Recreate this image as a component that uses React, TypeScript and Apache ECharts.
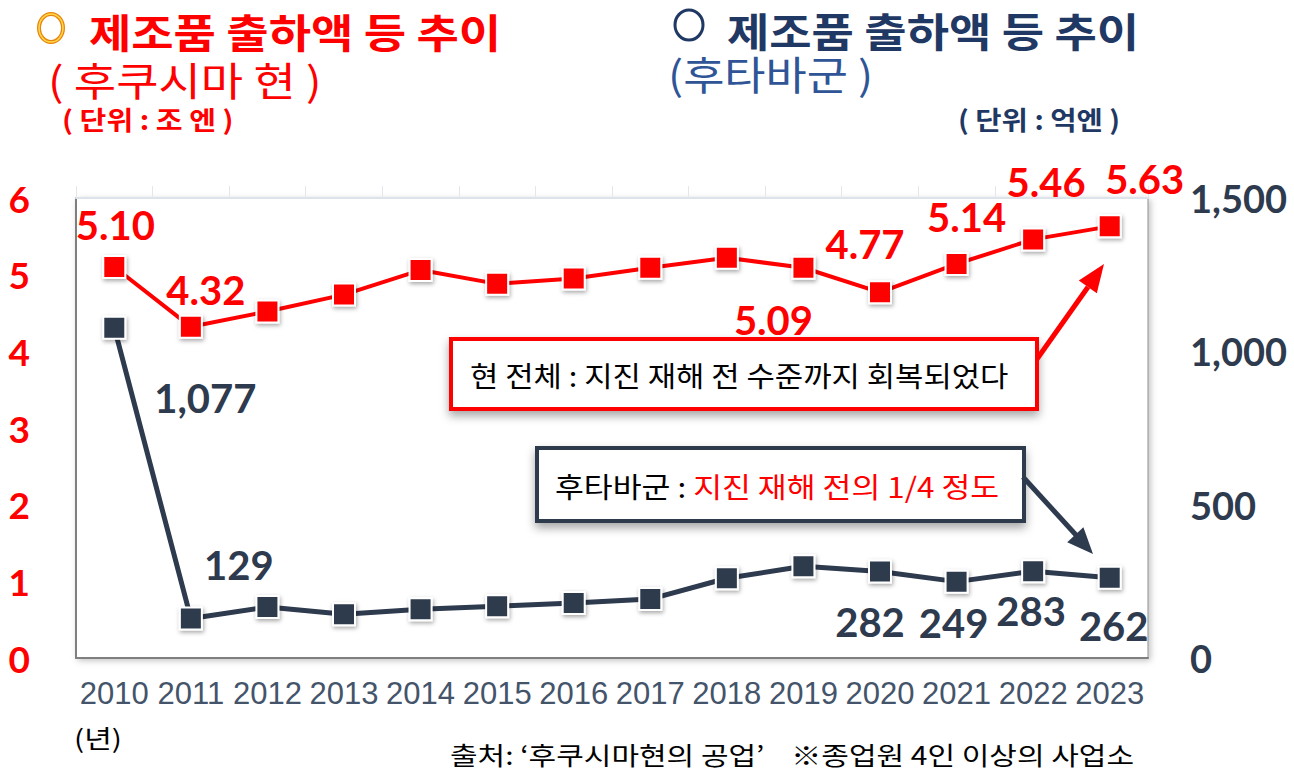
import React, { useEffect, useRef } from "react";
import * as echarts from "echarts";

// Data
const years = ["2010", "2011", "2012", "2013", "2014", "2015", "2016", "2017", "2018", "2019", "2020", "2021", "2022", "2023"];
const prefValues = [5.10, 4.32, 4.52, 4.74, 5.06, 4.88, 4.95, 5.09, 5.22, 5.09, 4.77, 5.14, 5.46, 5.63]; // 조 엔
const futabaValues = [1077, 129, 166, 143, 159, 169, 179, 192, 260, 299, 282, 249, 283, 262]; // 억엔
const leftTicks = [0, 1, 2, 3, 4, 5, 6];
const rightTicks = [0, 500, 1000, 1500];

// label offsets (index -> [dx, dy]) for the values that carry a label
const prefLabelOffsets: Record<number, number[]> = {
  0: [1, -42], 1: [15, -37], 9: [-30, 52], 10: [-15, -48], 11: [10, -47], 12: [13, -57], 13: [35, -47],
};
const futabaLabelOffsets: Record<number, number[]> = {
  0: [91, 70], 1: [48, -53], 10: [-10, 50], 11: [-3, 41], 12: [-2, 40], 13: [4, 48],
};

const RED = "#ff0000";
const DARK = "#2e3a4e";
const KR = "'Noto Sans CJK KR', sans-serif";
const NUM = "Lato, 'Noto Sans', sans-serif";

const fmt = (v: number) => v.toLocaleString("en-US");

const App: React.FC = () => {
  const chartRef = useRef<HTMLDivElement>(null);

  useEffect(() => {
    if (!chartRef.current) return;
    const chart = echarts.init(chartRef.current, undefined, { renderer: "svg" });

    const markerStyle = (color: string) => ({
      color,
      borderColor: "#ffffff",
      borderWidth: 2,
      shadowBlur: 4,
      shadowColor: "rgba(0,0,0,0.35)",
      shadowOffsetX: 1,
      shadowOffsetY: 2,
    });

    const prefData = prefValues.map((v, i) => ({
      value: v,
      label: prefLabelOffsets[i]
        ? { show: true, position: "inside", offset: prefLabelOffsets[i], formatter: v.toFixed(2) }
        : { show: false },
    }));
    const futabaData = futabaValues.map((v, i) => ({
      value: v,
      label: futabaLabelOffsets[i]
        ? { show: true, position: "inside", offset: futabaLabelOffsets[i], formatter: fmt(v) }
        : { show: false },
    }));

    // helper for plain texts in the graphic layer
    const txt = (x: number, y: number, text: string, fill: string, size: number, bold: boolean, sx = 1, z = 1) => ({
      type: "text",
      x,
      y,
      scaleX: sx,
      z,
      style: {
        text,
        fill,
        font: `${bold ? "bold " : ""}${size}px ${KR}`,
        lineHeight: size,
        verticalAlign: "middle",
      },
    });

    const options = {
      animation: false,
      backgroundColor: "#ffffff",
      grid: {
        left: 76,
        right: 146,
        top: 198,
        bottom: 116,
        show: true,
        backgroundColor: "#ffffff",
        borderColor: "#8c8c8c",
        borderWidth: 1,
        shadowBlur: 6,
        shadowColor: "rgba(0,0,0,0.25)",
        shadowOffsetX: 2,
        shadowOffsetY: 2,
      },
      xAxis: [
        {
          type: "category",
          data: years,
          boundaryGap: true,
          axisTick: { show: false },
          axisLine: { show: true, lineStyle: { color: "#7f7f7f", width: 2 } },
          axisLabel: { color: "#44546a", fontSize: 31, fontFamily: "'Liberation Sans', Arial, sans-serif", margin: 20, interval: 0 },
          splitLine: { show: false },
        },
        {
          // faint top edge with category ticks
          type: "category",
          data: years,
          position: "top",
          boundaryGap: true,
          axisTick: { show: true, length: 12, interval: 0, lineStyle: { color: "#e3e6ea", width: 1 } },
          axisLine: { show: true, onZero: false, lineStyle: { color: "#dde3ea", width: 2 } },
          axisLabel: { show: false },
          splitLine: { show: false },
        },
      ],
      yAxis: [
        {
          type: "value",
          min: leftTicks[0],
          max: leftTicks[leftTicks.length - 1],
          interval: 1,
          position: "left",
          axisLine: { show: true, lineStyle: { color: "#7f7f7f", width: 2 } },
          axisTick: { show: false },
          splitLine: { show: false },
          axisLabel: { color: RED, fontSize: 37, fontWeight: "bold", fontFamily: NUM, margin: 46 },
        },
        {
          type: "value",
          min: rightTicks[0],
          max: rightTicks[rightTicks.length - 1],
          interval: 500,
          position: "right",
          axisLine: { show: false },
          axisTick: { show: false },
          splitLine: { show: false },
          axisLabel: {
            color: DARK,
            fontSize: 38,
            fontWeight: "bold",
            fontFamily: NUM,
            margin: 42,
            formatter: (v: number) => fmt(v),
          },
        },
      ],
      series: [
        {
          name: "후타바군",
          type: "line",
          yAxisIndex: 1,
          data: futabaData,
          symbol: "rect",
          symbolSize: 22,
          lineStyle: { color: DARK, width: 5 },
          itemStyle: markerStyle(DARK),
          label: { color: DARK, fontSize: 40, fontWeight: "bold", fontFamily: NUM },
          z: 3,
        },
        {
          name: "후쿠시마 현",
          type: "line",
          yAxisIndex: 0,
          data: prefData,
          symbol: "rect",
          symbolSize: 22,
          lineStyle: { color: RED, width: 4 },
          itemStyle: markerStyle(RED),
          label: { color: RED, fontSize: 40, fontWeight: "bold", fontFamily: NUM },
          z: 4,
        },
      ],
      graphic: [
        // left title block
        { type: "ellipse", shape: { cx: 51, cy: 28, rx: 12, ry: 14 }, style: { fill: "none", stroke: "#e8830c", lineWidth: 4 } },
        { type: "ellipse", shape: { cx: 51, cy: 28, rx: 12, ry: 14 }, style: { fill: "none", stroke: "#ffd84a", lineWidth: 1.5 } },
        txt(89, 30, "제조품 출하액 등 추이", RED, 40, true, 1.15),
        txt(48, 78, "( 후쿠시마 현 )", RED, 40, false, 1.15),
        txt(62, 119, "( 단위 : 조 엔 )", RED, 26, true, 1.12),
        // right title block
        { type: "ellipse", shape: { cx: 689, cy: 25, rx: 14, ry: 15 }, style: { fill: "none", stroke: "#1f3864", lineWidth: 3 } },
        txt(727, 29, "제조품 출하액 등 추이", "#1f3864", 40, true, 1.15),
        txt(668, 73, "(후타바군 )", "#2f5597", 40, false, 1.12),
        txt(958, 119, "( 단위 : 억엔 )", "#1f3864", 26, true, 1.1),
        // annotation: prefecture
        {
          type: "rect",
          shape: { x: 451, y: 339, width: 586, height: 70 },
          style: { fill: "#ffffff", stroke: RED, lineWidth: 4, shadowBlur: 10, shadowColor: "rgba(0,0,0,0.35)", shadowOffsetY: 5 },
          z: 10,
        },
        txt(470, 375, "현 전체 : 지진 재해 전 수준까지 회복되었다", "#000000", 28, false, 1.1, 11),
        { type: "line", shape: { x1: 1037, y1: 359, x2: 1088, y2: 287 }, style: { stroke: RED, lineWidth: 5 }, z: 10 },
        { type: "polygon", shape: { points: [[1104, 264], [1096.8, 293.3], [1078.8, 280.6]] }, style: { fill: RED }, z: 10 },
        // annotation: Futaba
        {
          type: "rect",
          shape: { x: 537, y: 448, width: 487, height: 73 },
          style: { fill: "#ffffff", stroke: DARK, lineWidth: 4, shadowBlur: 10, shadowColor: "rgba(0,0,0,0.35)", shadowOffsetY: 5 },
          z: 10,
        },
        {
          type: "text",
          x: 555,
          y: 486,
          z: 11,
          scaleX: 1.12,
          style: {
            text: "{a|후타바군 : }{b|지진 재해 전의 1/4 정도}",
            verticalAlign: "middle",
            rich: {
              a: { fill: "#000000", font: `28px ${KR}`, lineHeight: 28 },
              b: { fill: RED, font: `28px ${KR}`, lineHeight: 28 },
            },
          },
        },
        { type: "line", shape: { x1: 1023, y1: 477, x2: 1076, y2: 535 }, style: { stroke: DARK, lineWidth: 5 }, z: 10 },
        { type: "polygon", shape: { points: [[1093, 554], [1067.2, 542.3], [1083.4, 527.3]] }, style: { fill: DARK }, z: 10 },
        // footer
        txt(74, 737, "(년)", "#000000", 25, false, 1.2),
        txt(450, 754, "출처: ‘후쿠시마현의 공업’    ※종업원 4인 이상의 사업소", "#000000", 25, false, 1.2),
      ],
    };

    chart.setOption(options as any);

    return () => {
      chart.dispose();
    };
  }, []);

  return <div ref={chartRef} style={{ position: "absolute", left: 0, top: 0, width: 1294, height: 774 }} />;
};

export default App;
